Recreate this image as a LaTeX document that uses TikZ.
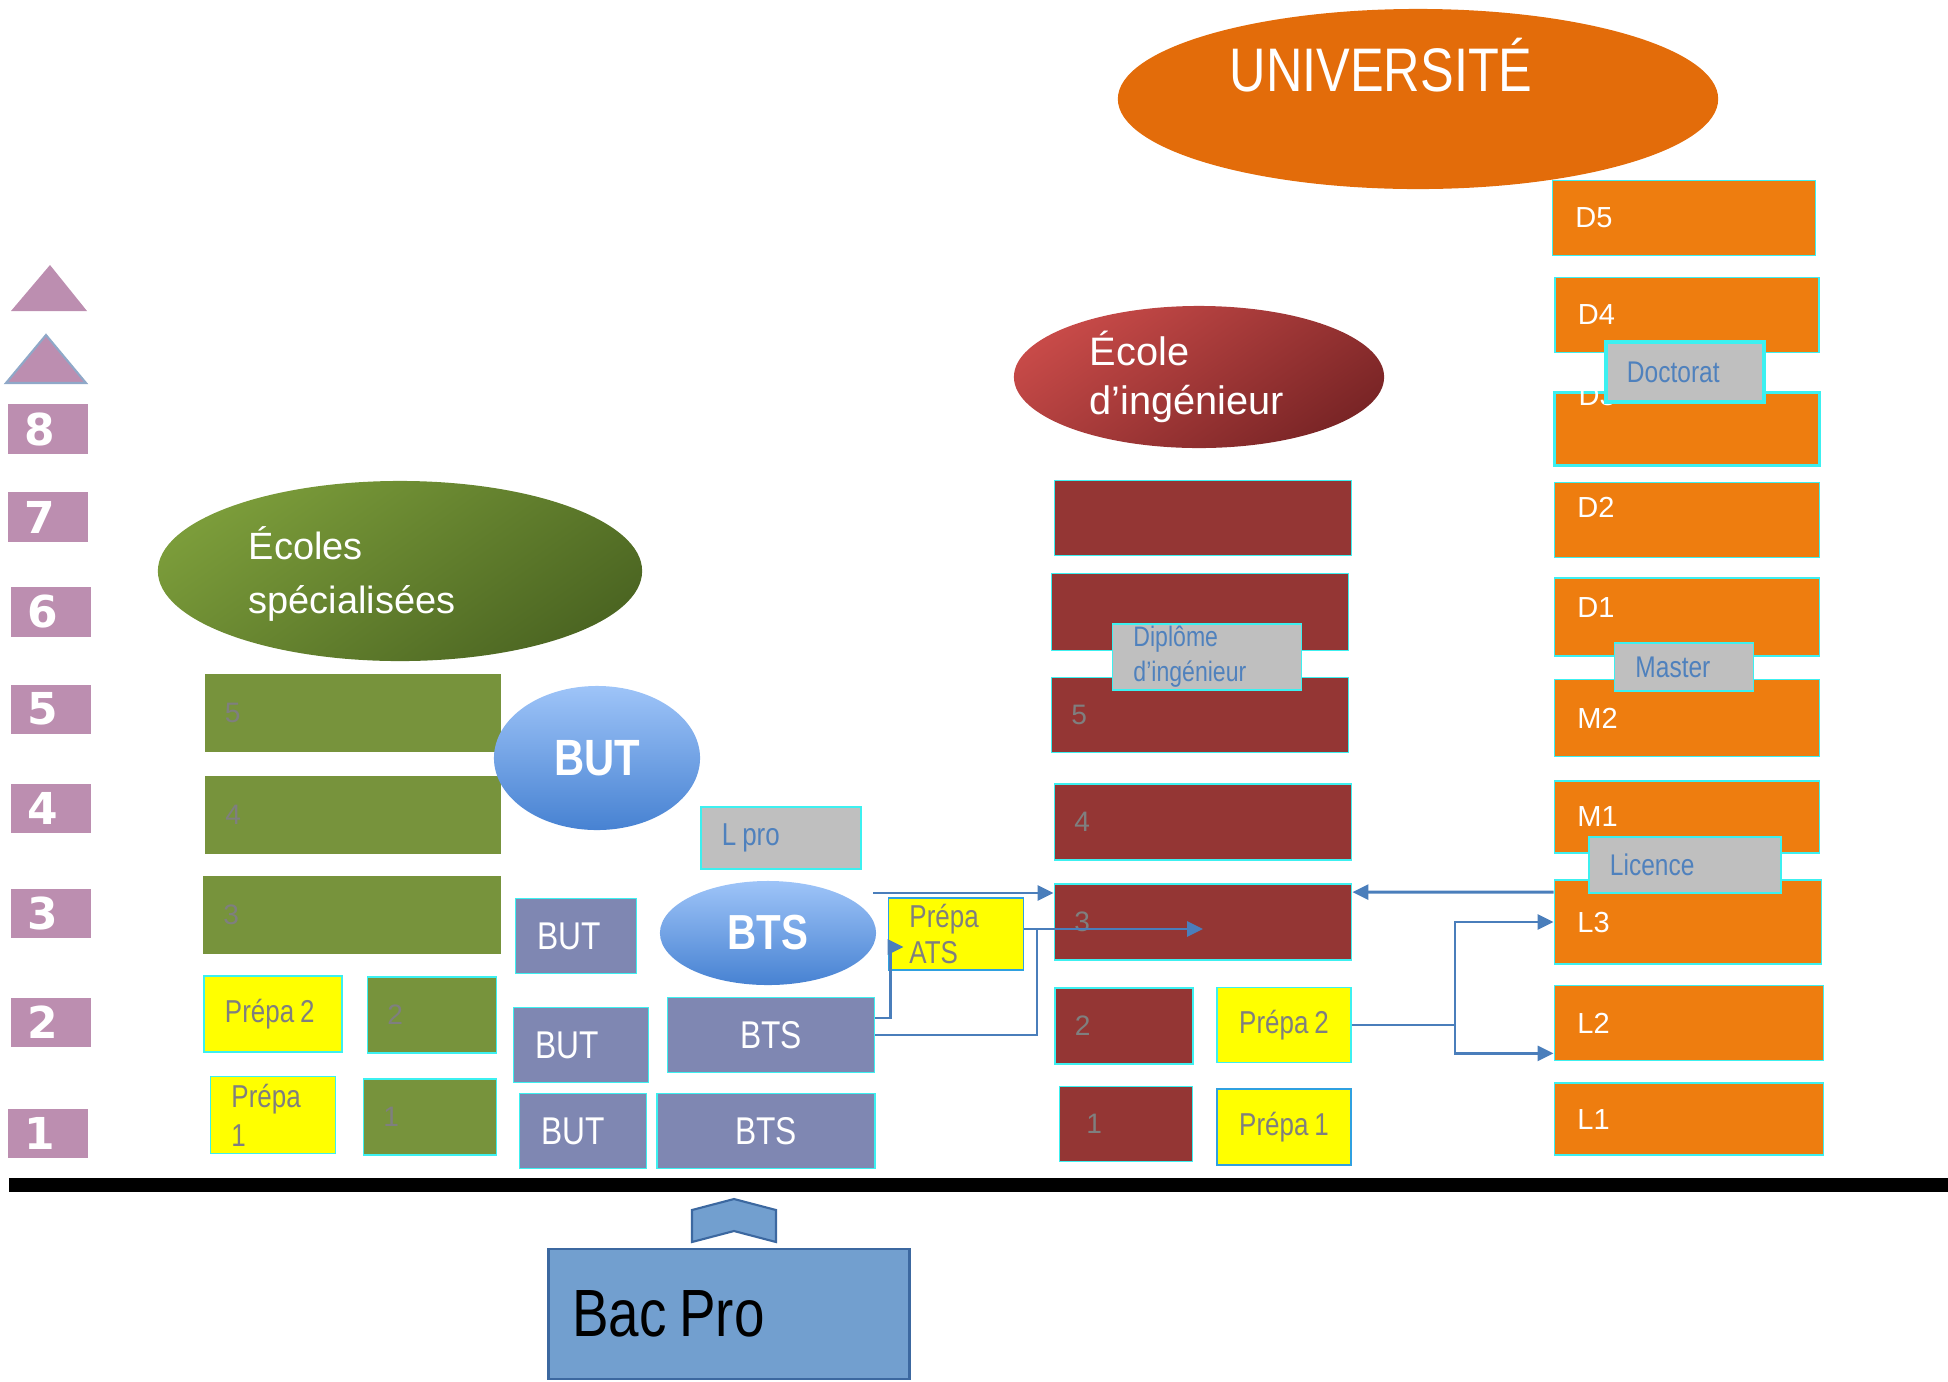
\documentclass[tikz,border=0pt]{standalone}
\usepackage{fontspec}
\setmainfont{Liberation Sans}
\newfontfamily\narrowfont[FakeStretch=0.82, WordSpace=0.82]{Liberation Sans}
\newfontfamily\levelfont{DejaVu Sans}
\usetikzlibrary{shapes.geometric, arrows.meta, calc}

\definecolor{levelpurple}{HTML}{BC8EB0}
\definecolor{triedge}{HTML}{8FA8C8}
\definecolor{spegreen}{HTML}{77933C}
\definecolor{spelight}{HTML}{7B9C3A}
\definecolor{spedark}{HTML}{4C6622}
\definecolor{prepayellow}{HTML}{FFFF00}
\definecolor{ingred}{HTML}{943634}
\definecolor{inglight}{HTML}{C74A48}
\definecolor{ingdark}{HTML}{7A2526}
\definecolor{univorange}{HTML}{EE7D0F}
\definecolor{univellipse}{HTML}{E36C0A}
\definecolor{butpurple}{HTML}{7F87B2}
\definecolor{butlight}{HTML}{9EC4F8}
\definecolor{butdark}{HTML}{4782D2}
\definecolor{taggrey}{HTML}{BFBFBF}
\definecolor{tagblue}{HTML}{4F81BD}
\definecolor{textgrey}{HTML}{7F7F7F}
\definecolor{celledge}{HTML}{3CF0F0}
\definecolor{atsedge}{HTML}{2FA0E0}
\definecolor{connblue}{HTML}{4A7EBB}
\definecolor{bacblue}{HTML}{729FCF}
\definecolor{bacedge}{HTML}{3C68A0}

\tikzset{
    cell/.style={rectangle, draw=celledge, line width=0.5pt, inner ysep=0pt, align=left, execute at begin node={\spaceskip=0pt\xspaceskip=0pt\relax}},
    levelbox/.style={rectangle, fill=levelpurple, inner ysep=0pt, inner xsep=0.17cm, text width=0.46cm, align=left, minimum height=0.49cm, text=white, font=\levelfont\bfseries\fontsize{12.5}{14}\selectfont},
    greencell/.style={cell, fill=spegreen, inner xsep=0.2cm, text=textgrey, font=\fontsize{8}{10}\selectfont},
    prepacell/.style={cell, fill=prepayellow, inner xsep=0.21cm, text=textgrey, font=\narrowfont\fontsize{9}{11}\selectfont},
    purplecell/.style={cell, fill=butpurple, inner xsep=0.22cm, text=white, font=\narrowfont\fontsize{11}{13}\selectfont},
    redcell/.style={cell, fill=ingred, inner xsep=0.2cm, text=textgrey, font=\fontsize{8}{10}\selectfont},
    orangecell/.style={cell, fill=univorange, inner xsep=0.23cm, text=white, font=\fontsize{8.25}{10}\selectfont},
    tagcell/.style={cell, fill=taggrey, inner xsep=0.21cm, text=tagblue, font=\narrowfont\fontsize{8.5}{10}\selectfont},
    blob/.style={ellipse, inner sep=0pt},
    blobtext/.style={inner sep=0pt, text=white, align=left},
    conn/.style={draw=connblue, line width=0.8pt, -{Triangle[length=0.16cm, width=0.15cm]}},
    joinline/.style={draw=connblue, line width=0.8pt},
}

\begin{document}
\begin{tikzpicture}[x=0.01cm, y=-0.01cm]
        \useasboundingbox (0, 0) rectangle (1948, 1381);

        % annees d'etudes
        \fill[levelpurple] (11, 311) -- (50, 265) -- (87, 311) -- cycle;
        \filldraw[fill=levelpurple, draw=triedge, line width=0.6pt] (6, 383) -- (46, 335) -- (86, 383) -- cycle;
        \node[levelbox] (lvl8) at (48, 429) {8};
        \node[levelbox] (lvl7) at (48, 517) {7};
        \node[levelbox] (lvl6) at (51, 612) {6};
        \node[levelbox] (lvl5) at (51, 709) {5};
        \node[levelbox] (lvl4) at (51, 808) {4};
        \node[levelbox] (lvl3) at (51, 913) {3};
        \node[levelbox] (lvl2) at (51, 1022) {2};
        \node[levelbox] (lvl1) at (48, 1133) {1};

        % ecoles specialisees
        \node[blob, minimum width=4.84cm, minimum height=1.80cm, top color=spelight, bottom color=spedark, shading angle=35] (ecoles) at (400, 571) {};
        \node[blobtext, anchor=west, font=\fontsize{10.8}{15.5}\selectfont] (ecoles-txt) at (248, 574) {Écoles\\spécialisées};
        \node[greencell, draw=none, minimum height=0.77cm, text width=2.56cm] (spe5) at (353, 713) {5};
        \node[greencell, draw=none, minimum height=0.77cm, text width=2.55cm] (spe4) at (353, 815) {4};
        \node[greencell, draw=none, minimum height=0.77cm, text width=2.57cm] (spe3) at (352, 915) {3};
        \node[prepacell, minimum height=0.76cm, text width=0.96cm] (spe-prepa2) at (273, 1014) {Prépa 2};
        \node[greencell, minimum height=0.76cm, text width=0.89cm] (spe2) at (432, 1015) {2};
        \node[prepacell, minimum height=0.77cm, text width=0.83cm] (spe-prepa1) at (273, 1115) {Prépa\\1};
        \node[greencell, minimum height=0.76cm, text width=0.93cm] (spe1) at (430, 1117) {1};

        % BUT et BTS
        \node[blob, minimum width=2.06cm, minimum height=1.44cm, top color=butlight, bottom color=butdark, text=white, font=\narrowfont\bfseries\fontsize{14.5}{16}\selectfont] (but) at (597, 758) {BUT};
        \node[tagcell, minimum height=0.62cm, text width=1.18cm, font=\narrowfont\fontsize{9}{11}\selectfont] (lpro) at (781, 838) {L pro};
        \node[blob, minimum width=2.16cm, minimum height=1.04cm, top color=butlight, bottom color=butdark, text=white, font=\narrowfont\bfseries\fontsize{14}{16}\selectfont] (bts) at (768, 933) {BTS};
        \node[purplecell, minimum height=0.75cm, text width=0.77cm] (but3) at (576, 936) {BUT};
        \node[purplecell, minimum height=0.75cm, text width=0.91cm] (but2) at (581, 1045) {BUT};
        \node[purplecell, minimum height=0.75cm, text width=0.83cm] (but1) at (583, 1131) {BUT};
        \node[purplecell, inner xsep=0pt, align=center, minimum width=2.07cm, minimum height=0.75cm] (bts2) at (771, 1035) {BTS};
        \node[purplecell, inner xsep=0pt, align=center, minimum width=2.18cm, minimum height=0.75cm] (bts1) at (766, 1131) {BTS};
        \node[prepacell, draw=atsedge, minimum height=0.72cm, text width=0.93cm, font=\narrowfont\fontsize{9}{10.3}\selectfont] (prepa-ats) at (956, 934) {Prépa\\ATS};

        % ecole d'ingenieur
        \node[blob, minimum width=3.70cm, minimum height=1.42cm, top color=inglight, bottom color=ingdark, shading angle=35] (ingenieur) at (1199, 377) {};
        \node[blobtext, anchor=west, font=\fontsize{11.3}{14}\selectfont] (ingenieur-txt) at (1089, 377) {École\\d’ingénieur};
        \node[redcell, inner xsep=0pt, minimum width=2.97cm, minimum height=0.75cm] (ing7) at (1203, 518) {};
        \node[redcell, inner xsep=0pt, minimum width=2.97cm, minimum height=0.77cm] (ing6) at (1200, 612) {};
        \node[redcell, minimum height=0.75cm, text width=2.57cm] (ing5) at (1200, 715) {5};
        \node[redcell, minimum height=0.76cm, text width=2.57cm] (ing4) at (1203, 822) {4};
        \node[redcell, minimum height=0.76cm, text width=2.57cm] (ing3) at (1203, 922) {3};
        \node[redcell, minimum height=0.76cm, text width=0.98cm] (ing2) at (1124, 1026) {2};
        \node[prepacell, inner xsep=0pt, align=center, minimum width=1.34cm, minimum height=0.75cm] (ing-prepa2) at (1284, 1025) {Prépa 2};
        \node[redcell, inner xsep=0.27cm, minimum height=0.75cm, text width=0.79cm] (ing1) at (1126, 1124) {1};
        \node[prepacell, draw=atsedge, inner xsep=0pt, align=center, minimum width=1.34cm, minimum height=0.76cm] (ing-prepa1) at (1284, 1127) {Prépa 1};
        \node[tagcell, minimum height=0.66cm, text width=1.47cm, font=\narrowfont\fontsize{8}{10}\selectfont] (diplome) at (1207, 657) {Diplôme\\d’ingénieur};

        % universite
        \node[blob, fill=univellipse, minimum width=6.00cm, minimum height=1.80cm] (univ) at (1418, 99) {};
        \node[blobtext, anchor=base west, font=\narrowfont\fontsize{17.5}{20}\selectfont] (univ-txt) at (1229, 91) {UNIVERSITÉ};
        \node[orangecell, minimum height=0.75cm, text width=2.17cm] (d5) at (1684, 218) {D5};
        \node[orangecell, minimum height=0.75cm, text width=2.18cm] (d4) at (1687, 315) {D4};
        \node[orangecell, draw=celledge, line width=1pt, minimum height=0.73cm, text width=2.19cm] (d3) at (1687, 429) {};
        \node[blobtext, anchor=base west, font=\fontsize{8.25}{10}\selectfont] (d3-txt) at (1578, 405) {D3};
        \node[orangecell, minimum height=0.75cm, text width=2.19cm, text height=0.21cm, text depth=0.26cm] (d2) at (1687, 520) {D2};
        \node[orangecell, minimum height=0.78cm, text width=2.19cm, text height=0.21cm, text depth=0.20cm] (d1) at (1687, 617) {D1};
        \node[orangecell, minimum height=0.77cm, text width=2.19cm] (m2) at (1687, 718) {M2};
        \node[orangecell, minimum height=0.72cm, text width=2.19cm] (m1) at (1687, 817) {M1};
        \node[orangecell, minimum height=0.84cm, text width=2.21cm] (l3) at (1688, 922) {L3};
        \node[orangecell, minimum height=0.75cm, text width=2.23cm] (l2) at (1689, 1023) {L2};
        \node[orangecell, minimum height=0.72cm, text width=2.23cm] (l1) at (1689, 1119) {L1};
        \node[tagcell, line width=1pt, minimum height=0.60cm, text width=1.16cm] (doctorat) at (1685, 372) {Doctorat};
        \node[tagcell, minimum height=0.48cm, text width=0.97cm] (master) at (1684, 667) {Master};
        \node[tagcell, minimum height=0.56cm, text width=1.50cm] (licence) at (1685, 865) {Licence};

        % passerelles
        \coordinate (lpro-out) at (873, 893);
        \coordinate (ats-join) at (1037, 929);
        \coordinate (prepa-split) at ($(ing-prepa2.east)+(103, 0)$);
        \draw[conn] (lpro-out) -- (lpro-out -| ing3.west);
        \draw[conn] ($(l3.north west)+(0, 13)$) -- ($(ing3.north east)+(0, 9)$);
        \draw[conn] ($(bts2.east)+(0, -17)$) -- ++(15, 0) |- ($(prepa-ats.west)+(16, 13)$);
        \draw[joinline] (bts2.east) -| (ats-join);
        \draw[conn] (prepa-ats.east |- ats-join) -- (ats-join -| ing3.center);
        \draw[conn] (ing-prepa2.east) -- (prepa-split) |- (l3.west);
        \draw[conn] (prepa-split) |- ($(l2.south west)+(0, -8)$);

        % bac pro
        \draw[line width=0.14cm] (9, 1185) -- (1948, 1185);
        \filldraw[fill=bacblue, draw=bacedge, line width=0.6pt] (692, 1210) -- (734, 1199) -- (776, 1210) -- (776, 1242) -- (734, 1231) -- (692, 1242) -- cycle;
        \node[cell, draw=bacedge, fill=bacblue, line width=0.8pt, inner xsep=0.24cm, minimum height=1.30cm, text width=3.13cm, font=\narrowfont\fontsize{19}{22}\selectfont] (bacpro) at (729, 1314) {Bac Pro};
\end{tikzpicture}
\end{document}
